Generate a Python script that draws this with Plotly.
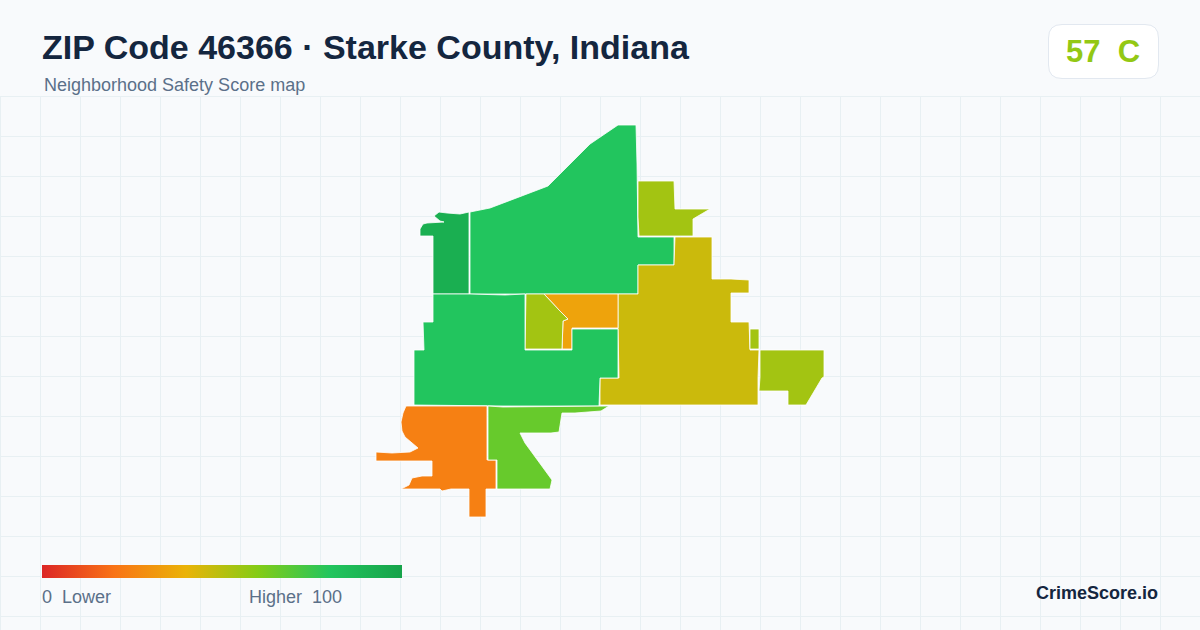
import plotly.graph_objects as go
from plotly.colors import sample_colorscale

BG = '#f8fafc'
GRID = '#e8f0f3'
NAVY = '#14263f'
SLATE = '#5b7089'
BAR_STOPS = [[0, '#dc2626'], [0.2, '#f97316'], [0.4, '#eab308'],
             [0.6, '#84cc16'], [0.8, '#22c55e'], [1, '#16a34a']]

title_text = 'ZIP Code 46366 · Starke County, Indiana'
subtitle_text = 'Neighborhood Safety Score map'
overall_score = 57
overall_grade = 'C'

# block groups, outlines
region_names = ['nw', 'north', 'northeast', 'east_mid', 'east_dot', 'east', 'center',
                'center_lime', 'middle', 'southwest', 'south']
region_scores = [93, 80, 54, 46, 54, 54, 35, 54, 80, 24, 66]

nw_x = [434, 439, 447, 460, 469, 469, 460, 433, 433, 420, 420, 423, 427, 444, 440, 434]
nw_y = [216, 212, 213, 214, 212, 294, 294, 294, 236, 236, 229, 224, 223, 222, 221, 216]

north_x = [470, 490, 548, 590, 618, 636, 637, 638, 674, 674, 638, 638, 600, 505, 470, 470]
north_y = [212, 208, 186, 144, 125, 125, 164, 237, 237, 265, 265, 294, 294, 294, 294, 212]

northeast_x = [638, 674, 675, 710, 693, 693, 639, 638, 638]
northeast_y = [181, 181, 209, 209, 219, 236, 236, 217, 181]

east_mid_x = [675, 712, 712, 731, 749, 749, 731, 731, 749, 750, 759, 758, 758, 600, 600, 619, 618, 618, 638, 638, 674, 675]
east_mid_y = [237, 237, 279, 279, 280, 293, 293, 322, 322, 350, 350, 378, 405, 405, 378, 378, 328, 294, 294, 265, 265, 237]

east_dot_x = [750, 759, 759, 750, 750]
east_dot_y = [329, 329, 349, 349, 329]

east_x = [760, 824, 824, 822, 806, 788, 788, 759, 760, 760]
east_y = [350, 350, 377, 378, 405, 405, 391, 391, 377, 350]

center_x = [544, 618, 618, 572, 572, 562, 563, 568, 559, 544]
center_y = [294, 294, 328, 328, 349, 349, 321, 319, 310, 294]

center_lime_x = [526, 544, 559, 568, 563, 562, 525, 526]
center_lime_y = [294, 294, 310, 319, 321, 349, 349, 294]

middle_x = [433, 470, 505, 525, 525, 572, 572, 618, 618, 600, 599, 503, 414, 414, 424, 423, 433, 433]
middle_y = [294, 294, 295, 294, 350, 350, 329, 329, 378, 378, 406, 406, 405, 350, 350, 322, 322, 294]

southwest_x = [406, 487, 487, 496, 496, 486, 486, 469, 469, 451, 442, 440, 401, 409, 412, 422, 432, 432,
               376, 376, 392, 410, 418, 405, 402, 401, 403, 406]
southwest_y = [406, 406, 460, 460, 489, 489, 517, 517, 489, 489, 491, 489, 489, 485, 478, 476, 476, 461,
               461, 452, 453, 452, 448, 437, 431, 422, 413, 406]

south_x = [488, 503, 609, 601, 575, 562, 559, 551, 520, 525, 552, 550, 497, 497, 488, 488]
south_y = [406, 407, 406, 411, 413, 413, 432, 433, 433, 443, 480, 489, 489, 460, 460, 406]

region_xs = [nw_x, north_x, northeast_x, east_mid_x, east_dot_x, east_x, center_x,
             center_lime_x, middle_x, southwest_x, south_x]
region_ys = [nw_y, north_y, northeast_y, east_mid_y, east_dot_y, east_y, center_y,
             center_lime_y, middle_y, southwest_y, south_y]


def score_color(score):
    return sample_colorscale(BAR_STOPS, score / 100)[0]


def label(text, px, py, size, color, anchor='left', bold=False):
    # px, py are page pixels, y measured from the top
    return dict(text=text, x=px / 1200, y=1 - py / 630, xref='paper', yref='paper',
                xanchor=anchor, yanchor='middle', showarrow=False, borderpad=0, borderwidth=0,
                font=dict(family='Liberation Sans', size=size, color=color,
                          weight='bold' if bold else 'normal'))


fig = go.Figure()

for name, score, xs, ys in zip(region_names, region_scores, region_xs, region_ys):
    fig.add_trace(go.Scatter(x=xs, y=ys, name=name, mode='lines', fill='toself',
                             fillcolor=score_color(score), line=dict(color='#ffffff', width=0.8),
                             hovertext=f'{name}: {score}', hoverinfo='text', showlegend=False))

# only here to get the gradient bar
fig.add_trace(go.Scatter(x=[None, None], y=[None, None], mode='markers', showlegend=False, hoverinfo='skip',
                         marker=dict(color=[0, 100], cmin=0, cmax=100, colorscale=BAR_STOPS, showscale=True,
                                     colorbar=dict(orientation='h', thickness=13, thicknessmode='pixels',
                                                   len=360, lenmode='pixels', x=42 / 1200, xanchor='left',
                                                   y=1 - 578 / 630, yanchor='bottom', xpad=0, ypad=0,
                                                   outlinewidth=0, borderwidth=0, ticks='',
                                                   showticklabels=False))))

fig.update_layout(
    width=1200, height=630,
    margin=dict(l=0, r=0, t=0, b=0),
    paper_bgcolor=BG, plot_bgcolor=BG,
    annotations=[
        label(title_text, 42, 47, 34, NAVY, bold=True),
        label(subtitle_text, 44, 85, 18, SLATE),
        label(f'{overall_score}\u00a0\u00a0{overall_grade}', 1103, 51, 31, score_color(overall_score),
              anchor='center', bold=True),
        label('0\u00a0\u00a0Lower', 42, 597, 18, SLATE),
        label('Higher\u00a0\u00a0100', 249, 597, 18, SLATE),
        label('CrimeScore.io', 1158, 593, 18, NAVY, anchor='right', bold=True),
    ],
    shapes=[dict(type='path', xref='paper', yref='paper', fillcolor='#ffffff',
                 line=dict(color='#e2e8f0', width=1),
                 path=f'M {1062 / 1200} {1 - 24.5 / 630} L {1145 / 1200} {1 - 24.5 / 630} '
                      f'Q {1158.5 / 1200} {1 - 24.5 / 630} {1158.5 / 1200} {1 - 38 / 630} '
                      f'L {1158.5 / 1200} {1 - 65 / 630} '
                      f'Q {1158.5 / 1200} {1 - 78.5 / 630} {1145 / 1200} {1 - 78.5 / 630} '
                      f'L {1062 / 1200} {1 - 78.5 / 630} '
                      f'Q {1048.5 / 1200} {1 - 78.5 / 630} {1048.5 / 1200} {1 - 65 / 630} '
                      f'L {1048.5 / 1200} {1 - 38 / 630} '
                      f'Q {1048.5 / 1200} {1 - 24.5 / 630} {1062 / 1200} {1 - 24.5 / 630} Z'),
            # plotly drops the grid lines on the plot edge, so the first two are drawn by hand
            dict(type='line', xref='paper', yref='paper', x0=0.5 / 1200, x1=0.5 / 1200, y0=0, y1=1 - 96 / 630,
                 line=dict(color=GRID, width=1), layer='below'),
            dict(type='line', xref='paper', yref='paper', x0=0, x1=1, y0=1 - 96.5 / 630, y1=1 - 96.5 / 630,
                 line=dict(color=GRID, width=1), layer='below')],
)

fig.update_xaxes(range=[0, 1200], tick0=0, dtick=40, showgrid=True, gridcolor=GRID, gridwidth=1,
                 zeroline=False, showticklabels=False, ticks='', showline=False, fixedrange=True)
fig.update_yaxes(range=[630, 96], domain=[0, 534 / 630], tick0=96, dtick=40, showgrid=True, gridcolor=GRID,
                 gridwidth=1, zeroline=False, showticklabels=False, ticks='', showline=False, fixedrange=True)

fig.write_html('out.html', config=dict(displayModeBar=False), post_script="document.body.style.margin='0'")
